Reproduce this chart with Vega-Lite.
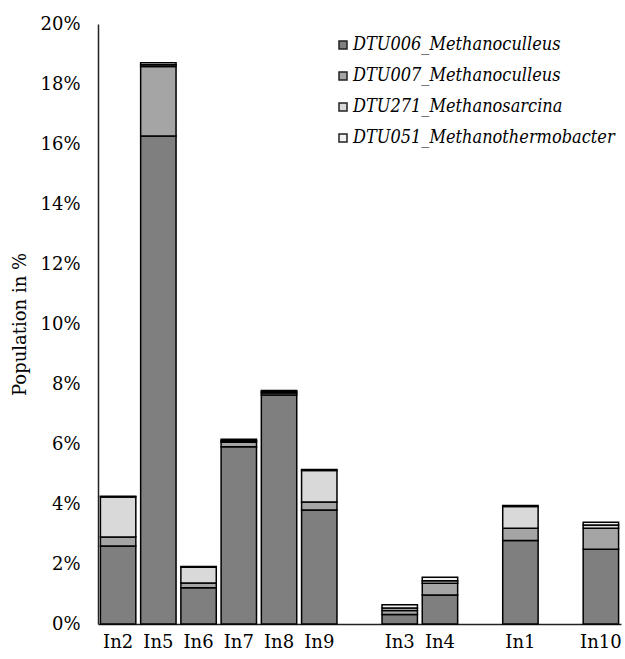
{
  "$schema": "https://vega.github.io/schema/vega-lite/v6.json",
  "autosize": {"type": "none"},
  "padding": {"left": 98, "top": 24, "right": 4, "bottom": 35},
  "width": 523,
  "height": 600,
  "background": "white",
  "data": {
    "values": [
      {"sample": "In2", "taxon": "DTU006_Methanoculleus", "k": 1, "value": 2.6},
      {"sample": "In2", "taxon": "DTU007_Methanoculleus", "k": 2, "value": 0.3},
      {"sample": "In2", "taxon": "DTU271_Methanosarcina", "k": 3, "value": 1.33},
      {"sample": "In2", "taxon": "DTU051_Methanothermobacter", "k": 4, "value": 0.03},
      {"sample": "In5", "taxon": "DTU006_Methanoculleus", "k": 1, "value": 16.27},
      {"sample": "In5", "taxon": "DTU007_Methanoculleus", "k": 2, "value": 2.31},
      {"sample": "In5", "taxon": "DTU271_Methanosarcina", "k": 3, "value": 0.06},
      {"sample": "In5", "taxon": "DTU051_Methanothermobacter", "k": 4, "value": 0.07},
      {"sample": "In6", "taxon": "DTU006_Methanoculleus", "k": 1, "value": 1.21},
      {"sample": "In6", "taxon": "DTU007_Methanoculleus", "k": 2, "value": 0.16},
      {"sample": "In6", "taxon": "DTU271_Methanosarcina", "k": 3, "value": 0.52},
      {"sample": "In6", "taxon": "DTU051_Methanothermobacter", "k": 4, "value": 0.03},
      {"sample": "In7", "taxon": "DTU006_Methanoculleus", "k": 1, "value": 5.91},
      {"sample": "In7", "taxon": "DTU007_Methanoculleus", "k": 2, "value": 0.15},
      {"sample": "In7", "taxon": "DTU271_Methanosarcina", "k": 3, "value": 0.05},
      {"sample": "In7", "taxon": "DTU051_Methanothermobacter", "k": 4, "value": 0.05},
      {"sample": "In8", "taxon": "DTU006_Methanoculleus", "k": 1, "value": 7.63},
      {"sample": "In8", "taxon": "DTU007_Methanoculleus", "k": 2, "value": 0.07},
      {"sample": "In8", "taxon": "DTU271_Methanosarcina", "k": 3, "value": 0.04},
      {"sample": "In8", "taxon": "DTU051_Methanothermobacter", "k": 4, "value": 0.04},
      {"sample": "In9", "taxon": "DTU006_Methanoculleus", "k": 1, "value": 3.8},
      {"sample": "In9", "taxon": "DTU007_Methanoculleus", "k": 2, "value": 0.27},
      {"sample": "In9", "taxon": "DTU271_Methanosarcina", "k": 3, "value": 1.05},
      {"sample": "In9", "taxon": "DTU051_Methanothermobacter", "k": 4, "value": 0.03},
      {"sample": "In3", "taxon": "DTU006_Methanoculleus", "k": 1, "value": 0.32},
      {"sample": "In3", "taxon": "DTU007_Methanoculleus", "k": 2, "value": 0.13},
      {"sample": "In3", "taxon": "DTU271_Methanosarcina", "k": 3, "value": 0.08},
      {"sample": "In3", "taxon": "DTU051_Methanothermobacter", "k": 4, "value": 0.11},
      {"sample": "In4", "taxon": "DTU006_Methanoculleus", "k": 1, "value": 0.97},
      {"sample": "In4", "taxon": "DTU007_Methanoculleus", "k": 2, "value": 0.39},
      {"sample": "In4", "taxon": "DTU271_Methanosarcina", "k": 3, "value": 0.08},
      {"sample": "In4", "taxon": "DTU051_Methanothermobacter", "k": 4, "value": 0.12},
      {"sample": "In1", "taxon": "DTU006_Methanoculleus", "k": 1, "value": 2.78},
      {"sample": "In1", "taxon": "DTU007_Methanoculleus", "k": 2, "value": 0.41},
      {"sample": "In1", "taxon": "DTU271_Methanosarcina", "k": 3, "value": 0.73},
      {"sample": "In1", "taxon": "DTU051_Methanothermobacter", "k": 4, "value": 0.03},
      {"sample": "In10", "taxon": "DTU006_Methanoculleus", "k": 1, "value": 2.49},
      {"sample": "In10", "taxon": "DTU007_Methanoculleus", "k": 2, "value": 0.7},
      {"sample": "In10", "taxon": "DTU271_Methanosarcina", "k": 3, "value": 0.11},
      {"sample": "In10", "taxon": "DTU051_Methanothermobacter", "k": 4, "value": 0.09}
    ]
  },
  "mark": {"type": "bar", "stroke": "black", "strokeWidth": 1.5},
  "encoding": {
    "x": {
      "field": "sample",
      "type": "nominal",
      "scale": {
        "domain": ["In2", "In5", "In6", "In7", "In8", "In9", " ", "In3", "In4", "  ", "In1", "   ", "In10"],
        "paddingInner": 0.12,
        "paddingOuter": 0.06
      },
      "axis": {
        "title": null,
        "labelAngle": 0,
        "ticks": false,
        "labelPadding": 9,
        "labelFont": "DejaVu Serif",
        "labelFontSize": 18,
        "labelColor": "black",
        "domainColor": "#222222",
        "domainWidth": 1.5
      }
    },
    "y": {
      "field": "value",
      "type": "quantitative",
      "stack": "zero",
      "scale": {"domain": [0, 20], "nice": false},
      "axis": {
        "title": "Population in %",
        "titleFont": "DejaVu Serif",
        "titleFontSize": 18,
        "titleFontWeight": "normal",
        "titleColor": "black",
        "titlePadding": 10,
        "values": [0, 2, 4, 6, 8, 10, 12, 14, 16, 18, 20],
        "labelExpr": "datum.value + '%'",
        "ticks": false,
        "grid": false,
        "labelPadding": 18,
        "labelFont": "DejaVu Serif",
        "labelFontSize": 18,
        "labelColor": "black",
        "domainColor": "#222222",
        "domainWidth": 1.5
      }
    },
    "color": {
      "field": "taxon",
      "type": "nominal",
      "scale": {
        "domain": ["DTU006_Methanoculleus", "DTU007_Methanoculleus", "DTU271_Methanosarcina", "DTU051_Methanothermobacter"],
        "range": ["#7f7f7f", "#a5a5a5", "#d9d9d9", "#f2f2f2"]
      },
      "legend": {
        "title": null,
        "orient": "none",
        "legendX": 236,
        "legendY": 12,
        "symbolType": "square",
        "symbolSize": 64,
        "symbolStrokeColor": "#222222",
        "symbolStrokeWidth": 1.5,
        "labelFont": "DejaVu Serif Condensed",
        "labelFontSize": 18,
        "labelFontStyle": "italic",
        "labelColor": "black",
        "labelLimit": 400,
        "labelOffset": 1,
        "rowPadding": 13
      }
    },
    "order": {"field": "k", "type": "quantitative"}
  },
  "config": {"view": {"stroke": null}}
}
